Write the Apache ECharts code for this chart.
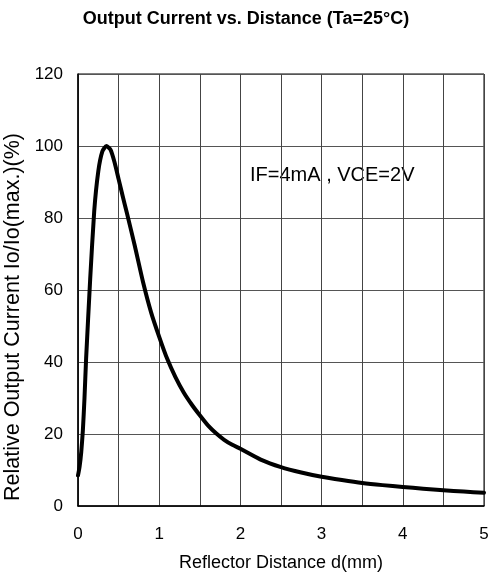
<!DOCTYPE html>
<html>
<head>
<meta charset="utf-8">
<script src="https://cdn.jsdelivr.net/npm/echarts@6/dist/echarts.min.js"></script>
<style>
html,body{margin:0;padding:0;background:#fff;}
#chart{width:492px;height:574px;}
</style>
</head>
<body>
<div id="chart"></div>
<script>
// Reflector distance d (mm)
var distance = [0, 0.02, 0.04, 0.06, 0.08, 0.1, 0.15, 0.2, 0.25, 0.3, 0.35, 0.4, 0.45, 0.5, 0.55, 0.6, 0.7, 0.8, 0.9, 1.0, 1.1, 1.2, 1.3, 1.4, 1.5, 1.6, 1.7, 1.8, 1.9, 2.0, 2.25, 2.5, 2.75, 3.0, 3.25, 3.5, 3.75, 4.0, 4.25, 4.5, 4.75, 5.0];
// Relative output current Io/Io(max.) (%)
var relCurrent = [8.5, 11, 15, 21, 30, 41, 63, 82, 93, 98.5, 100, 99, 95.5, 90.8, 86.1, 81.6, 72.2, 62.3, 53.8, 47, 40.8, 35.8, 31.6, 28.2, 25.2, 22.4, 20.2, 18.4, 17.0, 15.9, 12.9, 10.8, 9.3, 8.1, 7.2, 6.4, 5.8, 5.3, 4.8, 4.4, 4.0, 3.7];
var xTickLabels = [0, 1, 2, 3, 4, 5];
var yTickLabels = [0, 20, 40, 60, 80, 100, 120];

var titleText = 'Output Current vs. Distance (Ta=25°C)';
var xName = 'Reflector Distance d(mm)';
var yName = 'Relative Output Current Io/Io(max.)(%)';
var conditionText = 'IF=4mA , VCE=2V';

var points = distance.map(function (d, i) { return [d, relCurrent[i]]; });

var chart = echarts.init(document.getElementById('chart'));
var font = '"Liberation Sans", Arial, Helvetica, sans-serif';
chart.setOption({
  backgroundColor: '#fff',
  animation: false,
  title: {
    text: titleText,
    left: 'center',
    top: 5,
    textStyle: { fontFamily: font, fontSize: 18, fontWeight: 'bold', color: '#000' }
  },
  grid: {
    left: 78, right: 8, top: 74, bottom: 68,
    outerBoundsMode: 'none',
    containLabel: false,
    show: true, borderColor: '#000', borderWidth: 1
  },
  xAxis: {
    type: 'value',
    min: 0, max: 5, interval: 0.5,
    name: xName,
    nameLocation: 'middle',
    nameGap: 48,
    nameTextStyle: { fontFamily: font, fontSize: 18, color: '#000' },
    axisLine: { show: true, lineStyle: { color: '#000', width: 1.5 } },
    axisTick: { show: false },
    axisLabel: {
      margin: 20,
      fontFamily: font, fontSize: 17, color: '#000',
      formatter: function (v) {
        return xTickLabels.indexOf(v) >= 0 ? String(v) : '';
      }
    },
    splitLine: { show: true, lineStyle: { color: '#444', width: 1 } }
  },
  yAxis: {
    type: 'value',
    min: 0, max: 120, interval: 20,
    name: yName,
    nameLocation: 'middle',
    nameGap: 49,
    nameTextStyle: { fontFamily: font, fontSize: 21.5, color: '#000', padding: [0, 54, 0, 0] },
    axisLine: { show: true, lineStyle: { color: '#000', width: 1.5 } },
    axisTick: { show: false },
    axisLabel: {
      margin: 15,
      fontFamily: font, fontSize: 17, color: '#000',
      formatter: function (v) {
        return yTickLabels.indexOf(v) >= 0 ? String(v) : '';
      }
    },
    splitLine: { show: true, lineStyle: { color: '#555', width: 1 } }
  },
  graphic: [{
    type: 'group',
    left: 245,
    top: 162,
    z: 100,
    children: [{
      type: 'rect',
      shape: { x: 0, y: 0, width: 174, height: 35 },
      style: { fill: '#fff' }
    }, {
      type: 'text',
      x: 5, y: 3,
      style: {
        text: conditionText,
        fontFamily: font, fontSize: 20, fill: '#000'
      }
    }]
  }],
  series: [{
    type: 'line',
    data: points,
    showSymbol: false,
    smooth: 0.2,
    lineStyle: { color: '#000', width: 4, join: 'round', cap: 'round' },
    z: 10
  }]
});
</script>
</body>
</html>
